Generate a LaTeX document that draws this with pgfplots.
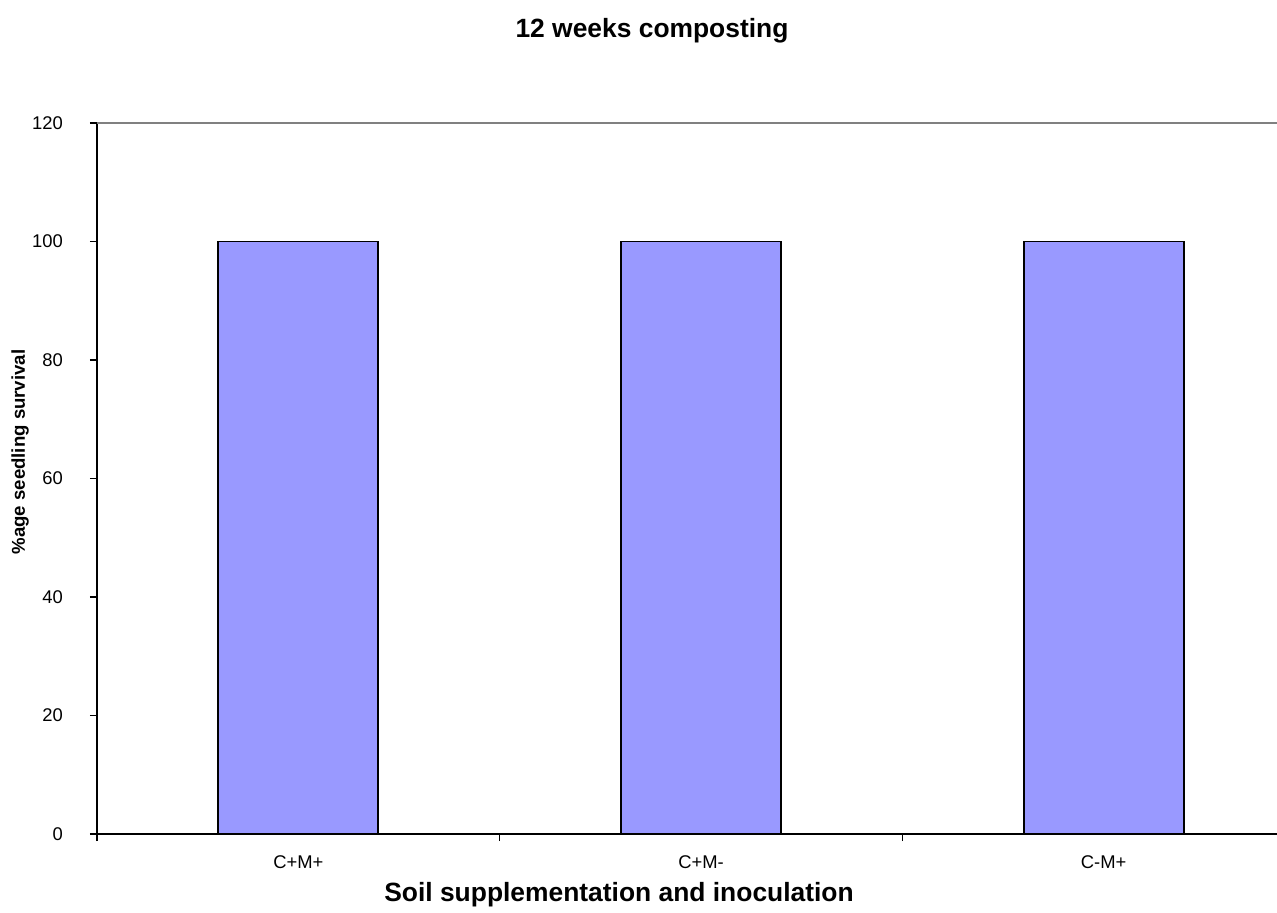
\documentclass[border=0pt]{standalone}
\usepackage{fontspec}
\setmainfont{Liberation Sans}
\usepackage{pgfplots}
\pgfplotsset{compat=1.18}
\definecolor{barfill}{HTML}{9999FF}
\definecolor{gridgray}{HTML}{808080}
\begin{document}
\begin{tikzpicture}
\begin{scope}
\clip (-48.5pt,-39pt) rectangle (590pt,417pt);
\begin{axis}[
  scale only axis, width=604pt, height=355.5pt,
  at={(0,0)}, anchor=south west,
  xmin=0, xmax=3, ymin=0, ymax=120,
  axis x line*=bottom, axis y line*=left,
  axis line style={line width=0.75pt, black},
  tick align=outside, major tick length=3.5pt,
  tick style={line width=0.6pt, black},
  ytick={0,20,...,120},
  xtick={0,1,2,3}, xticklabels={},
  extra x ticks={0.5,1.5,2.5},
  extra x tick labels={C+M+,C+M-,C-M+},
  extra x tick style={major tick length=0pt, xticklabel style={yshift=-7.5pt}},
  ticklabel style={font=\fontsize{9.2}{11}\selectfont},
  yticklabel style={xshift=-10pt},
  /pgf/number format/assume math mode=true,
  clip=false,
]
\draw[gridgray, line width=0.75pt] (axis cs:0,120) -- (axis cs:3,120);
\addplot[ybar, bar width=80pt, fill=barfill, draw=black, line width=0.85pt]
  coordinates {(0.5,100) (1.5,100) (2.5,100)};
\end{axis}
\node[font=\fontsize{13.2}{15}\selectfont\bfseries] at (277.5pt,401.5pt) {12 weeks composting};
\node[font=\fontsize{13.2}{15}\selectfont\bfseries] at (261pt,-30.5pt) {Soil supplementation and inoculation};
\node[font=\fontsize{9.3}{11}\selectfont\bfseries, rotate=90] at (-38.5pt,191pt) {\%age seedling survival};
\end{scope}
\pgfresetboundingbox
\useasboundingbox (-48.5pt,-39pt) rectangle (590pt,417pt);
\end{tikzpicture}
\end{document}
